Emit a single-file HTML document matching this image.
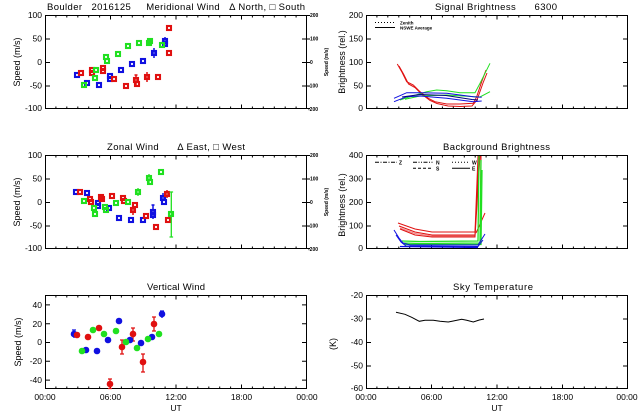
<!DOCTYPE html>
<html><head><meta charset="utf-8"><style>
html,body{margin:0;padding:0;background:#fff;}
svg{display:block;}
text{font-family:"Liberation Sans","DejaVu Sans",sans-serif;fill:#000;}
.t{font-size:9.5px;white-space:pre;}
.k{font-size:8.5px;}
.s{font-size:5px;font-weight:bold;}
</style></head><body>
<svg width="640" height="420" viewBox="0 0 640 420" xmlns="http://www.w3.org/2000/svg">
<rect width="640" height="420" fill="#fff"/>
<defs>
<g id="fr">
<rect x="0.5" y="0.5" width="261" height="93" fill="none" stroke="#000" stroke-width="1"/>
<path stroke="#000" stroke-width="1" fill="none" d="
M10.9 0v2.5M21.8 0v2.5M32.8 0v2.5M43.7 0v2.5M54.6 0v2.5M65.5 0v4.5M76.4 0v2.5M87.3 0v2.5M98.3 0v2.5M109.2 0v2.5M120.1 0v2.5M131 0v4.5M141.9 0v2.5M152.8 0v2.5M163.8 0v2.5M174.7 0v2.5M185.6 0v2.5M196.5 0v4.5M207.4 0v2.5M218.3 0v2.5M229.3 0v2.5M240.2 0v2.5M251.1 0v2.5
M10.9 94v-2.5M21.8 94v-2.5M32.8 94v-2.5M43.7 94v-2.5M54.6 94v-2.5M65.5 94v-4.5M76.4 94v-2.5M87.3 94v-2.5M98.3 94v-2.5M109.2 94v-2.5M120.1 94v-2.5M131 94v-4.5M141.9 94v-2.5M152.8 94v-2.5M163.8 94v-2.5M174.7 94v-2.5M185.6 94v-2.5M196.5 94v-4.5M207.4 94v-2.5M218.3 94v-2.5M229.3 94v-2.5M240.2 94v-2.5M251.1 94v-2.5"/>
</g>
<path id="yt" stroke="#000" stroke-width="1" fill="none" d="M0 24h5M0 47.5h5M0 71h5M262 24h-5M262 47.5h-5M262 71h-5"/>
<path id="yte" stroke="#000" stroke-width="1" fill="none" d="M0 9.9h5M0 28.7h5M0 47.5h5M0 66.3h5M0 85.1h5M262 9.9h-5M262 28.7h-5M262 47.5h-5M262 66.3h-5M262 85.1h-5"/>
</defs>

<use href="#fr" transform="translate(45,15)"/>
<use href="#yt" transform="translate(45,15)"/>
<use href="#fr" transform="translate(366,15)"/>
<use href="#yt" transform="translate(366,15)"/>
<use href="#fr" transform="translate(45,155)"/>
<use href="#yt" transform="translate(45,155)"/>
<use href="#fr" transform="translate(366,155)"/>
<use href="#yt" transform="translate(366,155)"/>
<use href="#fr" transform="translate(45,295)"/>
<use href="#yte" transform="translate(45,295)"/>
<use href="#fr" transform="translate(366,295)"/>
<use href="#yt" transform="translate(366,295)"/>

<path stroke="#000" stroke-width="1" d="M307 15.5h3M307 39h3M307 62.5h3M307 86h3M307 108.5h3M307 155.5h3M307 179h3M307 202.5h3M307 226h3M307 248.5h3"/>

<text class="t" x="47" y="10" textLength="258" lengthAdjust="spacing">Boulder   2016125     Meridional Wind   Δ North, □ South</text>
<text class="t" x="435" y="10" textLength="122" lengthAdjust="spacing">Signal Brightness      6300</text>
<text class="t" x="107" y="150" textLength="138" lengthAdjust="spacing">Zonal Wind      Δ East, □ West</text>
<text class="t" x="443" y="150" textLength="107" lengthAdjust="spacing">Background Brightness</text>
<text class="t" x="147" y="290" textLength="58" lengthAdjust="spacing">Vertical Wind</text>
<text class="t" x="453" y="290" textLength="80" lengthAdjust="spacing">Sky Temperature</text>

<g class="k" text-anchor="end">
<text x="42" y="18">100</text><text x="42" y="41.5">50</text><text x="42" y="65">0</text><text x="42" y="88.5">-50</text><text x="42" y="111">-100</text>
<text x="42" y="158">100</text><text x="42" y="181.5">50</text><text x="42" y="205">0</text><text x="42" y="228.5">-50</text><text x="42" y="251">-100</text>
<text x="42" y="308">40</text><text x="42" y="327">20</text><text x="42" y="345">0</text><text x="42" y="364">-20</text><text x="42" y="383">-40</text>
<text x="363" y="18">200</text><text x="363" y="41.5">150</text><text x="363" y="65">100</text><text x="363" y="88.5">50</text><text x="363" y="111">0</text>
<text x="363" y="158">400</text><text x="363" y="181.5">300</text><text x="363" y="205">200</text><text x="363" y="228.5">100</text><text x="363" y="251">0</text>
<text x="363" y="298">-20</text><text x="363" y="321.5">-30</text><text x="363" y="345">-40</text><text x="363" y="368.5">-50</text><text x="363" y="391">-60</text>
</g>

<g class="s">
<text x="310" y="17">200</text><text x="310" y="40.5">100</text><text x="310" y="64">0</text><text x="308" y="87.5">-100</text><text x="308" y="111">-200</text>
<text x="310" y="157">200</text><text x="310" y="180.5">100</text><text x="310" y="204">0</text><text x="308" y="227.5">-100</text><text x="308" y="251">-200</text>
<text transform="translate(328,62) rotate(-90)" text-anchor="middle">Speed (m/s)</text>
<text transform="translate(328,202) rotate(-90)" text-anchor="middle">Speed (m/s)</text>
</g>

<g class="k" text-anchor="middle" style="font-size:9px">
<text transform="translate(20,62) rotate(-90)">Speed (m/s)</text>
<text transform="translate(20,202) rotate(-90)">Speed (m/s)</text>
<text transform="translate(21,342) rotate(-90)">Speed (m/s)</text>
<text transform="translate(345,62) rotate(-90)">Brightness (rel.)</text>
<text transform="translate(345,205) rotate(-90)">Brightness (rel.)</text>
<text transform="translate(336,344) rotate(-90)">(K)</text>
</g>

<g class="k" text-anchor="middle">
<text x="45" y="400">00:00</text><text x="110.5" y="400">06:00</text><text x="176" y="400">12:00</text><text x="241.5" y="400">18:00</text><text x="307" y="400">00:00</text>
<text x="176" y="411">UT</text>
<text x="366" y="400">00:00</text><text x="431.5" y="400">06:00</text><text x="497" y="400">12:00</text><text x="562.5" y="400">18:00</text><text x="627" y="400">00:00</text>
<text x="497" y="411">UT</text>
</g>

<g fill="none" stroke-width="2.1">
<g stroke="#1010e0">
<rect x="75" y="73" width="4" height="4"/><rect x="85" y="81" width="4" height="4"/><rect x="97" y="83" width="4" height="4"/>
<rect x="108" y="74" width="4" height="4"/><rect x="108" y="77" width="4" height="4"/><rect x="119" y="68" width="4" height="4"/>
<rect x="130" y="62" width="4" height="4"/><rect x="141" y="59" width="4" height="4"/><rect x="152" y="51" width="4" height="4"/>
<rect x="163" y="39" width="4" height="4"/><rect x="163" y="42" width="4" height="4"/>
<path d="M154 48v10M165 37v9" stroke-width="1.5"/>
</g>
<g stroke="#e01010">
<rect x="79" y="71" width="4" height="4"/><rect x="90" y="68" width="4" height="4"/><rect x="90" y="71" width="4" height="4"/>
<rect x="101" y="66" width="4" height="4"/><rect x="101" y="69" width="4" height="4"/><rect x="112" y="77" width="4" height="4"/>
<rect x="124" y="84" width="4" height="4"/><rect x="134" y="78" width="4" height="4"/><rect x="135" y="82" width="4" height="4"/>
<rect x="145" y="75" width="4" height="4"/><rect x="156" y="75" width="4" height="4"/><rect x="167" y="26" width="4" height="4"/>
<rect x="167" y="51" width="4" height="4"/>
<path d="M136 75v12M147 72v10M134.5 75h3" stroke-width="1.5"/>
</g>
<g stroke="#20e020">
<rect x="82" y="83" width="4" height="4"/><rect x="94" y="68" width="4" height="4"/><rect x="93" y="76" width="4" height="4"/>
<rect x="104" y="55" width="4" height="4"/><rect x="105" y="59" width="4" height="4"/><rect x="116" y="52" width="4" height="4"/>
<rect x="126" y="44" width="4" height="4"/><rect x="137" y="41" width="4" height="4"/><rect x="148" y="39" width="4" height="4"/>
<rect x="147" y="41" width="4" height="4"/><rect x="160" y="43" width="4" height="4"/>
</g>
</g>

<g fill="none" stroke-width="2.1">
<g stroke="#1010e0">
<rect x="74" y="190" width="4" height="4"/><rect x="85" y="191" width="4" height="4"/><rect x="96" y="201" width="4" height="4"/>
<rect x="96" y="204" width="4" height="4"/><rect x="107" y="206" width="4" height="4"/><rect x="117" y="216" width="4" height="4"/>
<rect x="129" y="218" width="4" height="4"/><rect x="141" y="218" width="4" height="4"/><rect x="151" y="213" width="4" height="4"/>
<rect x="151" y="210" width="4" height="4"/><rect x="161" y="196" width="4" height="4"/><rect x="162" y="200" width="4" height="4"/>
<path d="M153 205v14M151.5 205h3M163 193v8" stroke-width="1.5"/>
</g>
<g stroke="#e01010">
<rect x="78" y="190" width="4" height="4"/><rect x="88" y="197" width="4" height="4"/><rect x="89" y="200" width="4" height="4"/>
<rect x="99" y="195" width="4" height="4"/><rect x="100" y="197" width="4" height="4"/><rect x="110" y="194" width="4" height="4"/>
<rect x="121" y="196" width="4" height="4"/><rect x="122" y="199" width="4" height="4"/><rect x="131" y="208" width="4" height="4"/>
<rect x="133" y="203" width="4" height="4"/><rect x="144" y="214" width="4" height="4"/><rect x="154" y="225" width="4" height="4"/>
<rect x="165" y="192" width="4" height="4"/><rect x="166" y="218" width="4" height="4"/>
<path d="M133 203v12M167 190v8" stroke-width="1.5"/>
</g>
<g stroke="#20e020">
<rect x="82" y="199" width="4" height="4"/><rect x="92" y="206" width="4" height="4"/><rect x="93" y="212" width="4" height="4"/>
<rect x="103" y="205" width="4" height="4"/><rect x="104" y="208" width="4" height="4"/><rect x="114" y="201" width="4" height="4"/>
<rect x="126" y="200" width="4" height="4"/><rect x="136" y="190" width="4" height="4"/><rect x="147" y="176" width="4" height="4"/>
<rect x="148" y="180" width="4" height="4"/><rect x="159" y="170" width="4" height="4"/><rect x="169" y="212" width="4" height="4"/>
<path d="M171.3 192v45M169.5 192h3.6M169.5 237h3.6M138 188v8M149 174v10" stroke-width="1.3"/>
</g>
</g>

<g>
<g stroke="#e01010" stroke-width="1.3" fill="none">
<path d="M110 379v9M108 379h4M108 388.5h4M122 340v14M120 340h4M120 354h4M133 328v13M131 328h4M131 341h4M143 354v18M141 354h4M141 372h4M154 317v14M152 317h4M152 331h4"/>
</g>
<g stroke="#1010e0" stroke-width="1.3" fill="none">
<path d="M74 330v8M72 330h4M162 311v7M160 311h4"/>
</g>
<g fill="#1010e0">
<circle cx="74" cy="334" r="3.3"/><circle cx="86" cy="350" r="3.3"/><circle cx="97" cy="351" r="3.3"/><circle cx="108" cy="340" r="3.3"/>
<circle cx="119" cy="321" r="3.3"/><circle cx="130" cy="340" r="3.3"/><circle cx="141" cy="343" r="3.3"/><circle cx="152" cy="337" r="3.3"/>
<circle cx="162" cy="314" r="3.3"/>
</g>
<g fill="#e01010">
<circle cx="77" cy="335" r="3.3"/><circle cx="88" cy="337" r="3.3"/><circle cx="99" cy="328" r="3.3"/><circle cx="110" cy="384" r="3.3"/>
<circle cx="122" cy="347" r="3.3"/><circle cx="133" cy="334" r="3.3"/><circle cx="143" cy="362" r="3.3"/><circle cx="154" cy="324" r="3.3"/>
</g>
<g fill="#20e020">
<circle cx="82" cy="351" r="3.3"/><circle cx="93" cy="330" r="3.3"/><circle cx="104" cy="334" r="3.3"/><circle cx="116" cy="331" r="3.3"/>
<circle cx="126" cy="342" r="3.3"/><circle cx="137" cy="348" r="3.3"/><circle cx="148" cy="339" r="3.3"/><circle cx="159" cy="334" r="3.3"/>
</g>
</g>

<g fill="none" stroke-width="1">
<path stroke="#000" stroke-dasharray="1,2" d="M375 22.5h20"/>
<path stroke="#000" d="M375 27.5h20"/>
<text class="s" x="400" y="24.5" style="font-size:4.5px">Zenith</text>
<text class="s" x="400" y="29.5" style="font-size:4.5px">NSWE Average</text>
<polyline stroke="#e01010" points="397.3,64 401.7,71.7 406.7,81.7 413.3,85 420,91.7 428.3,98.3 435,101.7 446.7,104 460,104 473.3,103.3 476.7,96.7 481.7,81.7 486,70"/>
<polyline stroke="#e01010" points="399,66 403.5,74 408.5,84 415,87.5 421.5,94 430,100.5 437,103.5 448,106 460,106.5 472,106 477,100 483,83 487,73"/>
<polyline stroke="#20e020" points="400,100 410,96.7 426.7,91.7 436.7,90 446.7,90.7 460,92.7 475,92.7 480,83.3 490,63.3"/>
<polyline stroke="#20e020" points="405,99.3 420,96 446.7,95 475,96.7 480,97 490,91.7"/>
<polyline stroke="#1010e0" points="394,98.3 406.7,92.7 420,92.7 446.7,93.3 473.3,96.7 481.7,97.3"/>
<polyline stroke="#1010e0" points="394,101.7 406.7,96.7 420,96 446.7,98.3 473.3,101.7 481.7,101"/>
<polyline stroke="#000080" points="402,97 420,94.5 446,95.5 472,99.5 478,100"/>
</g>

<g fill="none" stroke-width="1">
<path stroke="#000" stroke-dasharray="4,1.5,1,1.5" d="M375 162.3h22"/>
<text class="s" x="399" y="164.3">Z</text>
<path stroke="#000" stroke-dasharray="4,1.5,1,1.5,1,1.5" d="M413 162.3h20"/>
<text class="s" x="436" y="164.3">N</text>
<path stroke="#000" stroke-dasharray="3,2" d="M413 168.3h20"/>
<text class="s" x="436" y="170.3">S</text>
<path stroke="#000" stroke-dasharray="1,2" d="M452 162.3h18"/>
<text class="s" x="472" y="164.3">W</text>
<path stroke="#000" d="M452 168.3h18"/>
<text class="s" x="472" y="170.3">E</text>
<polyline stroke="#e01010" points="398,223 415,229 432,232 475,232 478,156"/>
<polyline stroke="#e01010" points="399,226 415,232 432,235 475,235 479,156"/>
<polyline stroke="#f08080" points="400,228 415,233.5 432,236 475,236"/>
<polyline stroke="#e01010" points="400,229 415,235 432,237 475,237 480,156"/>
<polyline stroke="#e01010" points="476,233 485,213"/>
<polyline stroke="#e01010" points="480,233 481,156"/>
<polyline stroke="#20e020" stroke-width="1.3" points="402,241 420,241.5 478,241 479,156"/>
<polyline stroke="#20e020" stroke-width="1.3" points="402,243 420,243.5 480,243 481,160"/>
<polyline stroke="#20e020" stroke-width="1.3" points="404,244.5 481,244.5 482,170"/>
<polyline stroke="#1010e0" points="394,230 399,238 403,243 410,245 478,245 485,234"/>
<polyline stroke="#1010e0" points="396,235 401,242 406,246 478,246.5 483,240"/>
<polyline stroke="#1010e0" stroke-width="1.3" points="400,246.5 478,247.5"/>
</g>

<polyline fill="none" stroke="#000" stroke-width="1" points="396,312.3 405,314.3 411.7,317.3 419.3,321.3 425,320.3 433.3,320.3 440,321.3 448.3,322 453.3,321 461.7,319.3 466.7,320.3 473.3,322 479.3,320 484,319"/>
</svg>
</body></html>
